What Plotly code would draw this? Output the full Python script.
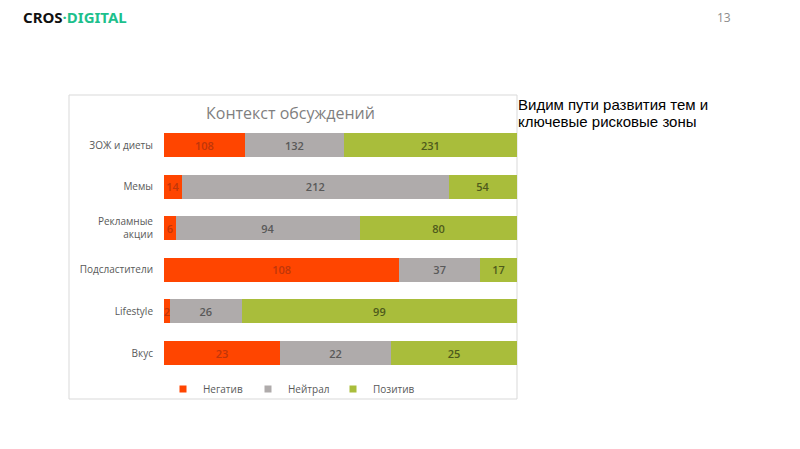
import plotly.graph_objects as go

categories = ["ЗОЖ и диеты", "Мемы", "Рекламные<br>акции", "Подсластители", "Lifestyle", "Вкус"]
negative = [108, 14, 6, 108, 2, 23]
neutral = [132, 212, 94, 37, 26, 22]
positive = [231, 54, 80, 17, 99, 25]
series_names = ["Негатив", "Нейтрал", "Позитив"]
series_colors = ["#FF4500", "#AFABAB", "#A9BD3B"]
text_colors = ["#C0360A", "#595959", "#4E5A1C"]
side_text = ["Видим пути развития тем и", "ключевые рисковые зоны"]

OFF = 8
W, H = 800 - OFF, 449 - OFF
def px(x): return (x - OFF) / W
def py(y): return 1 - (y - OFF) / H

fig = go.Figure()
for name, vals, col, tcol in zip(series_names, [negative, neutral, positive], series_colors, text_colors):
    fig.add_trace(go.Bar(
        y=categories, x=vals, orientation="h", name=name,
        marker=dict(color=col, line=dict(width=0)),
        text=[str(v) for v in vals], textposition="inside", insidetextanchor="middle",
        textfont=dict(color=tcol, size=11, family="Open Sans", weight=600),
        showlegend=False, hoverinfo="skip", constraintext="none",
    ))
    fig.add_trace(go.Scatter(
        x=[None], y=[None], mode="markers", name=name,
        marker=dict(symbol="square", size=7, color=col),
    ))

annotations = [
    dict(text="Контекст обсуждений", x=px(290), y=py(113), xref="paper", yref="paper",
         xanchor="center", yanchor="middle",
         showarrow=False, font=dict(size=16, color="#7F7F7F", family="Open Sans")),
    dict(text="<b>CROS</b><b><span style='color:#1DC08C'>·DIGITAL</span></b>", x=px(21), y=py(17),
         xref="paper", yref="paper", xanchor="left", yanchor="middle",
         showarrow=False, font=dict(size=15, color="#111111", family="Noto Sans")),
    dict(text="13", x=px(724), y=py(18), xref="paper", yref="paper",
         xanchor="center", yanchor="middle",
         showarrow=False, font=dict(size=12, color="#8C8C8C", family="Open Sans")),
]
for i, line in enumerate(side_text):
    annotations.append(dict(text=line, x=px(516), y=py(105 + 16 * i), xref="paper", yref="paper",
                            xanchor="left", yanchor="middle", align="left", showarrow=False,
                            font=dict(size=15, color="#000000", family="Liberation Sans")))

fig.update_layout(
    width=W, height=H, margin=dict(l=0, r=0, t=0, b=0),
    paper_bgcolor="white", plot_bgcolor="white",
    barmode="stack", barnorm="percent", bargap=0.42,
    uniformtext=dict(minsize=8, mode="show"),
    xaxis=dict(domain=[px(164), px(517)], range=[0, 100], visible=False, fixedrange=True),
    yaxis=dict(domain=[py(373.8), py(124.2)], autorange="reversed", showgrid=False,
               showline=False, ticks="", ticklabelstandoff=10,
               tickfont=dict(size=10, color="#595959", family="Open Sans")),
    legend=dict(orientation="h", x=px(163), y=py(389), xanchor="left", yanchor="middle",
                traceorder="normal",
                font=dict(size=10, color="#595959", family="Open Sans"),
                entrywidth=40, itemwidth=30, bgcolor="rgba(0,0,0,0)"),
    shapes=[dict(type="rect", xref="paper", yref="paper", x0=px(69), x1=px(517), y0=py(399), y1=py(95),
                 line=dict(color="#D9D9D9", width=1), fillcolor="rgba(0,0,0,0)", layer="below")],
    annotations=annotations,
)

fig.write_html("out.html")
